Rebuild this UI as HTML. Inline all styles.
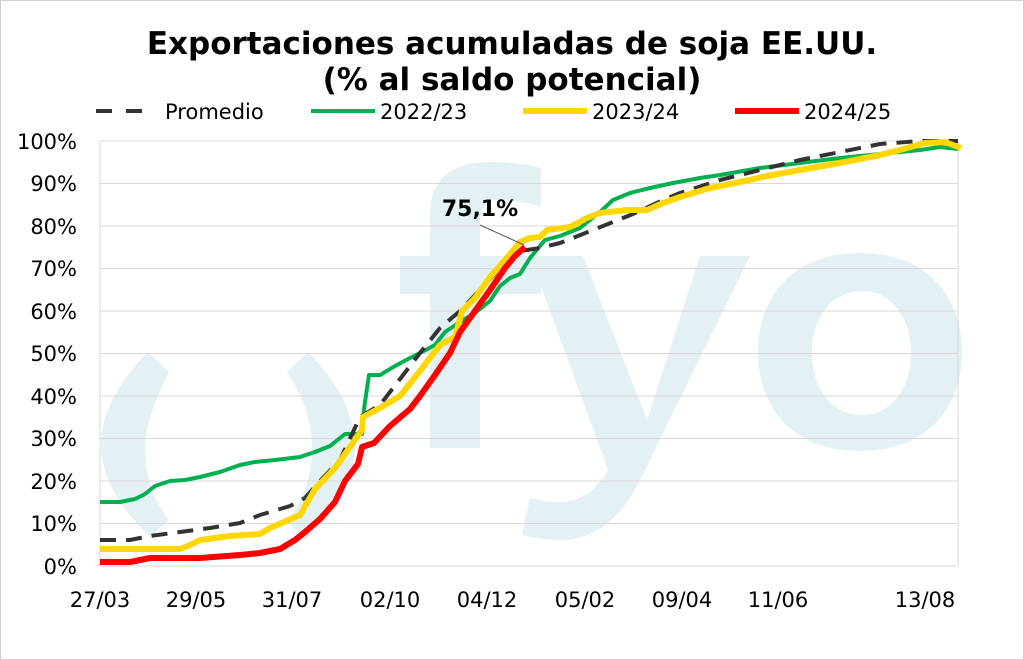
<!DOCTYPE html>
<html><head><meta charset="utf-8"><style>
body{margin:0;background:#fff}
svg{display:block;font-family:"DejaVu Sans","Liberation Sans",sans-serif}
</style></head><body>
<svg width="1024" height="660" viewBox="0 0 1024 660">
<rect x="0.5" y="0.5" width="1023" height="659" fill="#fff" stroke="#d0d0d0"/>
<!-- watermark -->
<g fill="#e3f0f4">
<path d="M430,448 L430,294 L400,294 L400,256 L430,256 L430,215 Q430,162 490,162 Q520,162 541,168 L541,207 Q520,200 500,200 Q480,200 480,224 L480,256 L541,256 L541,294 L480,294 L480,448 Z"/>
<path d="M530,256 L583,256 L647,420 L700,256 L750,256 L640,480 Q610,540 560,540 Q540,540 522,535 L530,498 Q545,502 560,502 Q590,502 608,470 Z"/>
<path fill-rule="evenodd" d="M860,253 C930,253 962,300 962,352 C962,405 930,451 860,451 C790,451 758,405 758,352 C758,300 790,253 860,253 Z M862,291 C830,291 812,320 812,353 C812,386 830,415 862,415 C893,415 911,386 911,353 C911,320 893,291 862,291 Z"/>
<path d="M148,352 L169,372 Q145,420 145,445 Q145,490 169,520 L150,537 Q101,490 101,445 Q101,400 148,352 Z"/>
<path d="M308,352 Q355,400 355,447 Q355,495 305,540 L287,520 Q312,490 312,447 Q312,410 287,372 Z"/>
</g>
<!-- grid -->
<g stroke="#d9d9d9" stroke-width="1">
<line x1="100" x2="958" y1="141" y2="141"/><line x1="100" x2="958" y1="183.5" y2="183.5"/>
<line x1="100" x2="958" y1="226" y2="226"/><line x1="100" x2="958" y1="268.5" y2="268.5"/>
<line x1="100" x2="958" y1="311" y2="311"/><line x1="100" x2="958" y1="353.5" y2="353.5"/>
<line x1="100" x2="958" y1="396" y2="396"/><line x1="100" x2="958" y1="438.5" y2="438.5"/>
<line x1="100" x2="958" y1="481" y2="481"/><line x1="100" x2="958" y1="523.5" y2="523.5"/>
<line x1="100" x2="100" y1="141" y2="566"/><line x1="958" x2="958" y1="141" y2="566"/>
<line x1="100" x2="958" y1="566" y2="566"/>
</g>
<g font-size="21" fill="#000" text-anchor="end">
<text x="77" y="149">100%</text><text x="77" y="191">90%</text><text x="77" y="234">80%</text>
<text x="77" y="276">70%</text><text x="77" y="319">60%</text><text x="77" y="361">50%</text>
<text x="77" y="404">40%</text><text x="77" y="446">30%</text><text x="77" y="489">20%</text>
<text x="77" y="531">10%</text><text x="77" y="574">0%</text>
</g>
<g font-size="21" fill="#000" text-anchor="middle">
<text x="100" y="607">27/03</text><text x="196" y="607">29/05</text><text x="292" y="607">31/07</text>
<text x="390" y="607">02/10</text><text x="487" y="607">04/12</text><text x="585" y="607">05/02</text>
<text x="682" y="607">09/04</text><text x="778" y="607">11/06</text><text x="925" y="607">13/08</text>
</g>
<!-- series -->
<g fill="none" stroke-linejoin="round">
<polyline stroke="#00b050" stroke-width="4" points="100,502 120,502 135,499 145,494 155,486 170,481 185,480 200,477 220,472 240,465 255,462 275,460 300,457 315,452 330,446 345,434 355,434 362,434 364,409 369,375 380,375 395,366 410,358 420,353 435,345 445,332 460,322 470,316 480,309 490,301 500,286 510,278 520,274 530,258 545,240 560,236 580,228 600,212 613,200 630,193 650,188 673,183 700,178 720,175 760,168 800,163 840,158 880,154 920,150 940,147 958,149"/>
<polyline stroke="#333" stroke-width="4" stroke-dasharray="16,10" points="100,540 130,540 150,536 180,532 210,528 240,523 260,515 290,506 305,498 320,481 340,460 360,417 380,405 400,379 420,353 440,328 460,311 480,290 500,268 520,251 540,248 560,243 593,230 613,222 633,214 663,200 680,193 720,180 760,170 800,160 840,152 880,144 920,141 958,141"/>
<polyline stroke="#ffd700" stroke-width="6" points="100,549 180,549 190,545 200,540 230,536 260,534 270,528 300,515 315,489 335,468 350,447 362,430 363,417 380,408 400,396 420,371 440,345 455,337 462,311 475,298 490,277 505,260 520,242 530,238 540,237 547,230 570,227 587,218 600,213 627,210 647,210 663,203 680,197 710,188 740,182 767,176 800,170 823,166 850,161 880,155 900,150 925,143 945,142 961,148"/>
<polyline stroke="#ff0000" stroke-width="6" points="100,562 130,562 150,558 200,558 240,555 260,553 280,549 295,540 305,532 320,519 335,502 345,481 358,464 362,447 374,443 390,426 410,409 420,396 435,375 450,353 460,332 475,311 490,290 505,268 515,256 525,247"/>
</g>
<line x1="480" y1="225" x2="524" y2="245" stroke="#595959" stroke-width="1"/>
<text x="480" y="216" font-size="22" font-weight="bold" text-anchor="middle">75,1%</text>
<!-- title -->
<g font-size="31" font-weight="bold" text-anchor="middle">
<text x="512" y="54">Exportaciones acumuladas de soja EE.UU.</text>
<text x="512" y="90">(% al saldo potencial)</text>
</g>
<!-- legend -->
<line x1="96" y1="111" x2="152" y2="111" stroke="#333" stroke-width="4" stroke-dasharray="16,14"/>
<text x="165" y="119" font-size="21">Promedio</text>
<line x1="311" y1="111" x2="375" y2="111" stroke="#00b050" stroke-width="4"/>
<text x="380" y="119" font-size="21">2022/23</text>
<line x1="523" y1="111" x2="587" y2="111" stroke="#ffd700" stroke-width="6"/>
<text x="592" y="119" font-size="21">2023/24</text>
<line x1="735" y1="111" x2="799" y2="111" stroke="#ff0000" stroke-width="6"/>
<text x="804" y="119" font-size="21">2024/25</text>
</svg>
</body></html>
